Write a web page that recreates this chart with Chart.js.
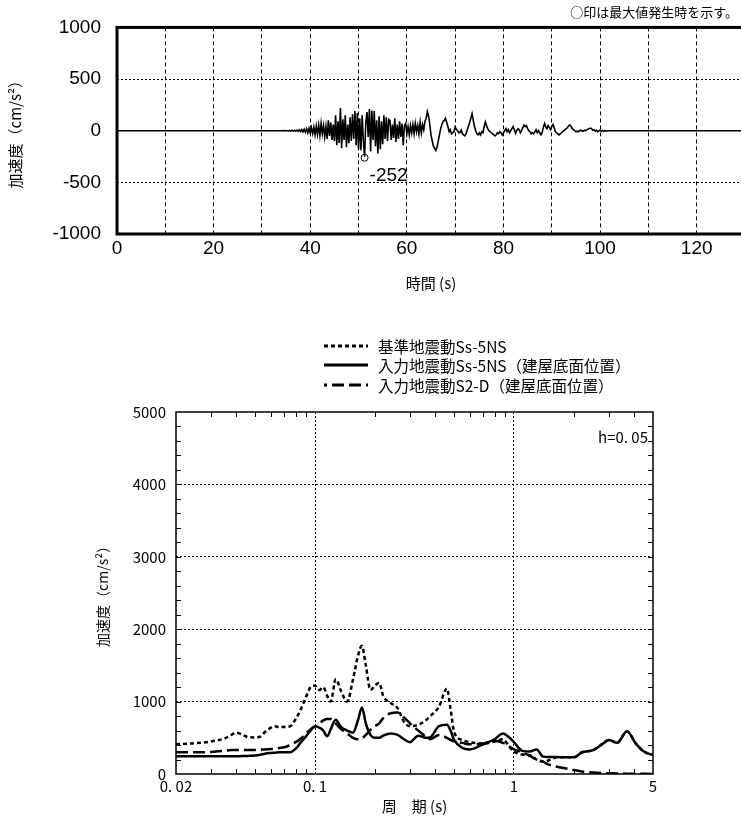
<!DOCTYPE html>
<html lang="ja">
<head>
<meta charset="utf-8">
<title>加速度時刻歴波形と加速度応答スペクトル</title>
<script src="https://cdn.jsdelivr.net/npm/chart.js@4.4.1/dist/chart.umd.min.js"></script>
<style>
  html, body { margin: 0; padding: 0; background: #fff; }
  body { position: relative; width: 741px; height: 823px; overflow: hidden; }
  #wave-box { position: absolute; left: 0; top: 0; width: 800px; height: 300px; }
  #spec-box { position: absolute; left: 0; top: 300px; width: 741px; height: 523px; }
  #legend { position: absolute; left: 0; top: 336px; font-family: "Noto Sans CJK JP", sans-serif; font-size: 15.5px; color: #000; }
  #legend .row { display: flex; align-items: center; height: 19.5px; }
  #legend .sample { width: 368px; display: flex; justify-content: flex-end; }
  #legend .name { margin-left: 10px; white-space: nowrap; }
</style>
</head>
<body>
<div id="wave-box"><canvas id="wave" width="800" height="300"></canvas></div>
<div id="spec-box"><canvas id="spec" width="741" height="523"></canvas></div>
<div id="legend"></div>
<script>
// 時刻歴波形 (cm/s2), 34秒から0.25秒刻み
const waveStart = 34
const waveStep = 0.25
const waveEnd = 130
const waveAcc = [
  0, 1, -1, 2, -2, 2, -2, 3,
  -3, 4, -4, 5, -5, 6, -6, 8,
  -8, 10, -12, 14, -15, 18, -20, 22,
  -25, 30, -28, 35, -40, 45, -35, 55,
  -45, 70, -30, 50, -60, 40, -80, 100,
  -50, 80, -90, 60, -100, 150, -140, 90,
  -120, 220, -170, 110, -90, 150, -160, 60,
  -120, 130, -100, 160, -80, 190, -140, 170,
  -180, 120, -190, 150, -100, -252, 80, 180,
  -60, 210, -200, 195, -90, 190, -150, 100,
  -220, 140, -180, 90, -130, 150, -80, 130,
  -100, 110, 100, -90, 60, -70, 120, -110,
  60, -80, 90, -60, 70, -140, 50, 70,
  -30, 40, -40, 50, -20, 60, -30, 70,
  -10, 50, -30, 80, -20, 60, 10, 90,
  120, 185, 140, 60, -40, -100, -150, -170,
  -190, -160, -100, -40, 20, 60, 90, 100,
  120, 80, 40, -10, 10, -30, -20, -10,
  35, 15, 0, -20, -15, 5, -30, -40,
  -50, -30, 10, 40, 80, 120, 165, 100,
  40, 0, -30, -40, -20, -40, -10, -20,
  40, 85, 50, 20, 0, -10, -20, -30,
  -40, -50, -40, -20, -30, -10, -20, -40,
  -20, 0, 20, -10, 10, -20, 0, 20,
  40, 10, -25, 0, 20, 10, -20, 0,
  30, 55, 40, 50, 20, 0, -10, -30,
  -20, -30, -10, 10, -20, 0, -20, -40,
  -20, 30, 70, 40, 20, 50, 30, 10,
  40, 60, 30, -10, -20, -30, -40, -30,
  -20, -10, 0, 10, 20, 30, 50, 55,
  40, 20, 10, 0, -10, -5, -10, 0,
  5, 0, -5, 5, 0, 10, 15, 20,
  25, 20, 5, 10, -5, 5, -10, 0,
  5, -5, 3, -8, 2, -5, 0, 0,
  0
]
const timeGrid = [0, 10, 20, 30, 40, 50, 60, 70, 80, 90, 100, 110, 120, 130]
const timeLabels = [0, 20, 40, 60, 80, 100, 120]
const accTicksTop = [-1000, -500, 0, 500, 1000]
const accGridTop = [-500, 500]
const noteText = '○印は最大値発生時を示す。'

// 加速度応答スペクトル (h=0.05)
const periods = [
  0.02, 0.025, 0.03, 0.035, 0.038, 0.04, 0.043, 0.046, 0.05, 0.053,
  0.056, 0.06, 0.063, 0.066, 0.07, 0.075, 0.08, 0.085, 0.09, 0.095,
  0.1, 0.105, 0.11, 0.115, 0.12, 0.127, 0.135, 0.145, 0.155, 0.165,
  0.172, 0.18, 0.19, 0.2, 0.21, 0.22, 0.24, 0.26, 0.28, 0.3,
  0.33, 0.36, 0.38, 0.42, 0.46, 0.48, 0.5, 0.55, 0.6, 0.7,
  0.8, 0.88, 0.95, 1.0, 1.1, 1.2, 1.3, 1.4, 1.5, 1.65,
  1.8, 2.0, 2.2, 2.5, 2.8, 3.0, 3.3, 3.7, 4.1, 4.5,
  5.0
]
const specBase = [
  410, 425, 450, 490, 540, 570, 545, 510, 505, 515,
  580, 640, 660, 645, 650, 660, 760, 900, 1060, 1200,
  1220, 1160, 1200, 1080, 1000, 1310, 1150, 1000, 1300, 1650,
  1770, 1500, 1160, 1220, 1260, 1080, 980, 910, 720, 660,
  680, 740, 800, 930, 1180, 900, 580, 470, 440, 420,
  450, 480, 370, 310, 270, 260, 200, 170, 190, 230,
  230, 230, 300, 330, 420, 470, 430, 590, 420, 310,
  260
]
const specInput = [
  245, 245, 245, 245, 245, 245, 248, 250, 255, 265,
  280, 290, 295, 300, 300, 300, 350, 440, 520, 600,
  660, 640, 600, 520, 620, 750, 650, 600, 570, 760,
  920, 700, 540, 500, 500, 530, 560, 540, 480, 440,
  530, 500, 510, 660, 680, 600, 470, 360, 340, 410,
  480, 560, 500, 440, 320, 310, 340, 240, 235, 235,
  230, 230, 300, 330, 420, 470, 430, 590, 420, 310,
  260
]
const specS2D = [
  300, 300, 305, 320, 330, 330, 330, 330, 330, 335,
  340, 345, 350, 360, 370, 400, 440, 490, 560, 620,
  660, 700, 740, 760, 760, 700, 620, 560, 500, 480,
  490, 540, 610, 660, 700, 770, 840, 850, 780, 700,
  600, 520, 480, 540, 500, 470, 450, 430, 410, 420,
  460, 430, 380, 340, 300, 250, 200, 170, 130, 100,
  80, 55, 35, 20, 12, 10, 8, 5, 3, 2,
  0
]
const seriesNames = ['基準地震動Ss-5NS', '入力地震動Ss-5NS（建屋底面位置）', '入力地震動S2-D（建屋底面位置）']
const seriesDash = [[4, 3], [], [12, 5]]
const periodTicks = [0.02, 0.1, 1, 5]
const periodTickLabels = ['0. 02', '0. 1', '1', '5']
const periodMinor = [0.03, 0.04, 0.05, 0.06, 0.07, 0.08, 0.09, 0.2, 0.3, 0.4, 0.5, 0.6, 0.7, 0.8, 0.9, 2, 3, 4]
const accTicksSpec = [0, 1000, 2000, 3000, 4000, 5000]
const accMinorStep = 200
const dampingText = 'h=0. 05'

const jpFont = '"Noto Sans CJK JP", sans-serif'
const numFont = '"Liberation Sans Narrow", "Liberation Sans", sans-serif'
Chart.defaults.color = '#000'

const clear = 'rgba(0,0,0,0)'

// 上段: 枠、最大値マーク、注記
const waveDecor = {
  id: 'waveDecor',
  afterDraw(chart) {
    const { ctx, chartArea: a, scales: { x, y } } = chart
    ctx.save()
    ctx.strokeStyle = '#000'
    ctx.lineWidth = 3
    ctx.strokeRect(a.left, a.top, a.right - a.left, a.bottom - a.top)

    let k = 0
    waveAcc.forEach((v, i) => { if (Math.abs(v) > Math.abs(waveAcc[k])) k = i })
    const px = x.getPixelForValue(waveStart + k * waveStep)
    const py = y.getPixelForValue(waveAcc[k])
    ctx.lineWidth = 1
    ctx.beginPath()
    ctx.arc(px, py + 1, 3.5, 0, Math.PI * 2)
    ctx.stroke()
    ctx.fillStyle = '#000'
    ctx.font = '19px ' + numFont
    ctx.textAlign = 'left'
    ctx.textBaseline = 'middle'
    ctx.fillText(String(waveAcc[k]), px + 5, py + 19)

    ctx.font = '13px ' + jpFont
    ctx.textAlign = 'right'
    ctx.fillText(noteText, 738, 12)
    ctx.restore()
  }
}

const wavePoints = [{ x: 0, y: 0 }]
  .concat(waveAcc.map((v, i) => ({ x: waveStart + i * waveStep, y: v })))
  .concat([{ x: waveEnd, y: 0 }])

new Chart(document.getElementById('wave'), {
  type: 'line',
  data: {
    datasets: [{
      data: wavePoints,
      borderColor: '#000',
      borderWidth: 1.6,
      pointRadius: 0,
      tension: 0
    }]
  },
  options: {
    responsive: false,
    animation: false,
    events: [],
    layout: { padding: { left: 0, top: 27, right: 55, bottom: 0 } },
    plugins: { legend: { display: false }, tooltip: { enabled: false } },
    scales: {
      x: {
        type: 'linear', min: 0, max: waveEnd,
        afterBuildTicks: s => { s.ticks = timeGrid.map(v => ({ value: v })) },
        afterFit: s => { s.height = 66 },
        ticks: {
          autoSkip: false, maxRotation: 0, padding: 3,
          font: { family: numFont, size: 19 },
          callback: v => timeLabels.includes(v) ? String(v) : ''
        },
        grid: {
          drawTicks: false, lineWidth: 1,
          color: c => (c.tick && (c.tick.value === 0 || c.tick.value === waveEnd)) ? clear : '#000'
        },
        border: { display: false, dash: [4, 3] },
        title: { display: true, text: '時間 (s)', font: { family: jpFont, size: 15 }, padding: { top: 0, bottom: 8 } }
      },
      y: {
        min: -1000, max: 1000,
        afterBuildTicks: s => { s.ticks = accTicksTop.map(v => ({ value: v })) },
        afterFit: s => { s.width = 117 },
        ticks: {
          autoSkip: false, padding: 16,
          font: { family: numFont, size: 19 },
          callback: v => String(v)
        },
        grid: {
          drawTicks: false, lineWidth: 1,
          color: c => (c.tick && accGridTop.includes(c.tick.value)) ? '#000' : clear
        },
        border: { display: false, dash: [2, 2] },
        title: { display: true, text: '加速度（cm/s²）', font: { family: jpFont, size: 15 }, padding: { top: 6, bottom: 0 } }
      }
    }
  },
  plugins: [waveDecor]
})

// 下段: 枠、内向き目盛、減衰定数
const specDecor = {
  id: 'specDecor',
  afterDraw(chart) {
    const { ctx, chartArea: a, scales: { x, y } } = chart
    ctx.save()
    ctx.strokeStyle = '#000'
    ctx.lineWidth = 1
    ctx.beginPath()
    periodMinor.forEach(v => {
      const px = Math.round(x.getPixelForValue(v)) + 0.5
      ctx.moveTo(px, a.bottom); ctx.lineTo(px, a.bottom - 5)
      ctx.moveTo(px, a.top); ctx.lineTo(px, a.top + 5)
    })
    for (let v = accMinorStep; v < accTicksSpec[accTicksSpec.length - 1]; v += accMinorStep) {
      const py = Math.round(y.getPixelForValue(v)) + 0.5
      ctx.moveTo(a.left, py); ctx.lineTo(a.left + 5, py)
      ctx.moveTo(a.right, py); ctx.lineTo(a.right - 5, py)
    }
    ctx.stroke()
    ctx.lineWidth = 1.5
    ctx.strokeRect(a.left, a.top, a.right - a.left, a.bottom - a.top)
    ctx.fillStyle = '#000'
    ctx.font = '15px ' + jpFont
    ctx.textAlign = 'right'
    ctx.textBaseline = 'middle'
    ctx.fillText(dampingText, a.right - 5, a.top + 25)
    ctx.restore()
  }
}

const toPoints = vals => periods.map((p, i) => ({ x: p, y: vals[i] }))
const specSeries = [specBase, specInput, specS2D]

new Chart(document.getElementById('spec'), {
  type: 'line',
  data: {
    datasets: specSeries.map((vals, i) => ({
      label: seriesNames[i],
      data: toPoints(vals),
      borderColor: '#000',
      borderWidth: 2.5,
      borderDash: seriesDash[i],
      pointRadius: 0,
      cubicInterpolationMode: 'monotone'
    }))
  },
  options: {
    responsive: false,
    animation: false,
    events: [],
    layout: { padding: { left: 0, top: 112, right: 88, bottom: 0 } },
    plugins: { legend: { display: false }, tooltip: { enabled: false } },
    scales: {
      x: {
        type: 'logarithmic', min: periodTicks[0], max: periodTicks[periodTicks.length - 1],
        afterBuildTicks: s => { s.ticks = periodTicks.map(v => ({ value: v })) },
        afterFit: s => { s.height = 49 },
        ticks: {
          autoSkip: false, maxRotation: 0, padding: 3,
          font: { family: jpFont, size: 15 },
          callback: (v, i) => periodTickLabels[i]
        },
        grid: {
          drawTicks: false, lineWidth: 1,
          color: c => (c.tick && (c.tick.value === periodTicks[0] || c.tick.value === periodTicks[periodTicks.length - 1])) ? clear : '#000'
        },
        border: { display: false, dash: [2, 2] },
        title: { display: true, text: '周　期 (s)', font: { family: jpFont, size: 15 }, padding: { top: 0, bottom: 8 } }
      },
      y: {
        min: 0, max: 5000,
        afterBuildTicks: s => { s.ticks = accTicksSpec.map(v => ({ value: v })) },
        afterFit: s => { s.width = 176 },
        ticks: {
          autoSkip: false, padding: 10,
          font: { family: jpFont, size: 15 },
          callback: v => String(v)
        },
        grid: {
          drawTicks: false, lineWidth: 1,
          color: c => (c.tick && (c.tick.value === 0 || c.tick.value === 5000)) ? clear : '#000'
        },
        border: { display: false, dash: [2, 2] },
        title: { display: true, text: '加速度（cm/s²）', font: { family: jpFont, size: 14 }, padding: { top: 94, bottom: 0 } }
      }
    }
  },
  plugins: [specDecor]
})

// 凡例
const legendBox = document.getElementById('legend')
seriesNames.forEach((name, i) => {
  const row = document.createElement('div')
  row.className = 'row'
  const sample = document.createElement('div')
  sample.className = 'sample'
  sample.innerHTML = '<svg width="44" height="8"><line x1="0" y1="4" x2="44" y2="4" stroke="#000" stroke-width="3"' +
    (seriesDash[i].length ? ' stroke-dasharray="' + seriesDash[i].join(',') + '" stroke-dashoffset="' + (i === 2 ? 9 : 0) + '"' : '') +
    '/></svg>'
  const label = document.createElement('span')
  label.className = 'name'
  label.textContent = name
  row.appendChild(sample)
  row.appendChild(label)
  legendBox.appendChild(row)
})
</script>
</body>
</html>
